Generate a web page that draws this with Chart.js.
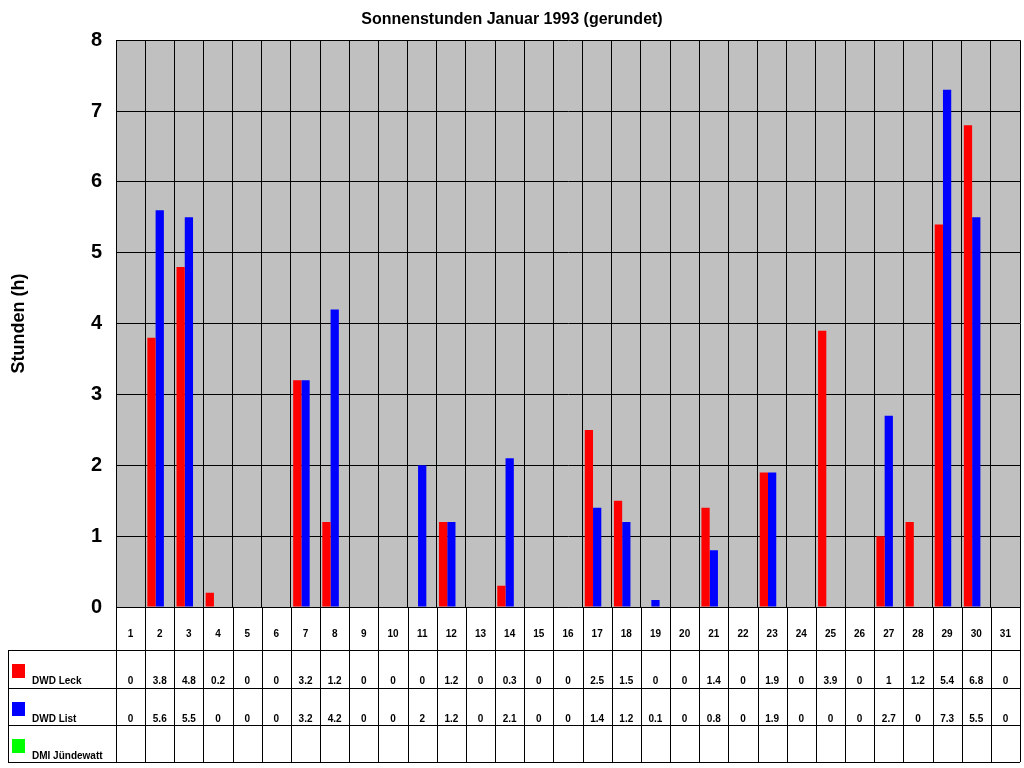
<!DOCTYPE html>
<html><head><meta charset="utf-8">
<script src="https://cdn.jsdelivr.net/npm/chart.js@4"></script>
<style>html,body{margin:0;padding:0;background:#fff}#c{display:block}</style>
</head><body>
<div style="width:1024px;height:768px"><canvas id="c"></canvas></div>
<script>
const days = ["1","2","3","4","5","6","7","8","9","10","11","12","13","14","15","16","17","18","19","20","21","22","23","24","25","26","27","28","29","30","31"];
const leck = [0,3.8,4.8,0.2,0,0,3.2,1.2,0,0,0,1.2,0,0.3,0,0,2.5,1.5,0,0,1.4,0,1.9,0,3.9,0,1,1.2,5.4,6.8,0];
const list = [0,5.6,5.5,0,0,0,3.2,4.2,0,0,2,1.2,0,2.1,0,0,1.4,1.2,0.1,0,0.8,0,1.9,0,0,0,2.7,0,7.3,5.5,0];
const dmi = days.map(()=>null);
const seriesNames = ["DWD Leck","DWD List","DMI Jündewatt"];
const seriesColors = ["#ff0000","#0000ff","#00ff00"];
const yTicks = [0,1,2,3,4,5,6,7,8];

const bgPlugin = {
  id:'bg',
  beforeDraw(ch){
    const {ctx,chartArea:a}=ch;
    ctx.save();ctx.fillStyle='#c0c0c0';ctx.fillRect(a.left,a.top,a.right-a.left,a.bottom-a.top);ctx.restore();
  }
};
const tablePlugin = {
  id:'table',
  afterDraw(ch){
    const {ctx,chartArea:a}=ch; const x=ch.scales.x;
    const rows=[a.bottom,650,688,725,762];
    const step=(x.getPixelForValue(1)-x.getPixelForValue(0));
    ctx.save();ctx.strokeStyle='#000';ctx.lineWidth=1;
    // vertical lines
    for(let i=0;i<=days.length;i++){
      const px=Math.round(x.getPixelForValue(i)-step/2)+0.5;
      ctx.beginPath();ctx.moveTo(px,rows[0]);ctx.lineTo(px,rows[4]);ctx.stroke();
    }
    ctx.beginPath();ctx.moveTo(8.5,rows[1]);ctx.lineTo(8.5,rows[4]);ctx.stroke();
    for(let r=1;r<rows.length;r++){
      ctx.beginPath();ctx.moveTo(8,rows[r]+0.5);ctx.lineTo(a.right,rows[r]+0.5);ctx.stroke();
    }
    ctx.fillStyle='#000';ctx.textAlign='center';ctx.textBaseline='middle';
    ctx.font='bold 10px Arial, "Liberation Sans", sans-serif';
    days.forEach((d,i)=>ctx.fillText(d,x.getPixelForValue(i),634));
    const data=[leck,list,dmi];
    data.forEach((arr,r)=>{
      arr.forEach((v,i)=>{ if(v!==null) ctx.fillText(String(v),x.getPixelForValue(i),rows[r+1]+31); });
      ctx.fillStyle=seriesColors[r];ctx.fillRect(12,rows[r+1]+14,13,14);
      ctx.fillStyle='#000';ctx.textAlign='left';
      ctx.fillText(seriesNames[r],32,rows[r+1]+31);
      ctx.textAlign='center';
    });
    ctx.restore();
  }
};

new Chart(document.getElementById('c'),{
  type:'bar',
  data:{labels:days,datasets:[
    {label:seriesNames[0],data:leck,backgroundColor:seriesColors[0]},
    {label:seriesNames[1],data:list,backgroundColor:seriesColors[1]},
    {label:seriesNames[2],data:dmi,backgroundColor:seriesColors[2]}
  ]},
  options:{
    responsive:true,maintainAspectRatio:false,animation:false,
    layout:{padding:{left:4,right:4,top:0,bottom:161}},
    datasets:{bar:{categoryPercentage:0.85,barPercentage:1}},
    plugins:{
      legend:{display:false},tooltip:{enabled:false},
      title:{display:true,text:'Sonnenstunden Januar 1993 (gerundet)',color:'#000',
        font:{family:'Arial, "Liberation Sans", sans-serif',size:16,weight:'bold'},padding:{top:10,bottom:11}}
    },
    scales:{
      x:{grid:{color:'#000',drawTicks:false,offset:true},border:{color:'#000'},ticks:{display:false}},
      y:{min:0,max:8,afterFit(s){s.width=112;},
        afterBuildTicks(s){s.ticks=yTicks.map(v=>({value:v}));},
        grid:{color:'#000',drawTicks:false},border:{color:'#000'},
        ticks:{color:'#000',padding:14,font:{family:'Arial, "Liberation Sans", sans-serif',size:20,weight:'bold'}},
        title:{display:true,text:'Stunden (h)',color:'#000',padding:{bottom:30},font:{family:'Arial, "Liberation Sans", sans-serif',size:18,weight:'bold'}}
      }
    }
  },
  plugins:[bgPlugin,tablePlugin]
});
</script>
</body></html>
